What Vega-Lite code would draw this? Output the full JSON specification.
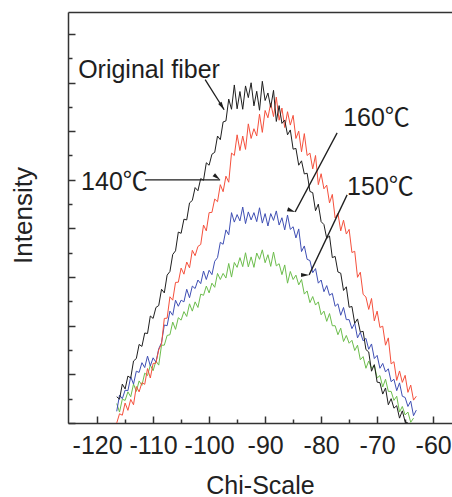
{
  "$schema": "https://vega.github.io/schema/vega-lite/v6.json",
  "width": 384,
  "height": 411,
  "autosize": {"type": "none"},
  "padding": {"left": 68, "top": 12, "right": 0, "bottom": 74},
  "config": {
    "font": "Liberation Sans",
    "view": {"stroke": null},
    "axis": {"grid": false, "domainColor": "#333", "domainWidth": 1.5, "tickColor": "#333", "tickWidth": 1.5, "labelColor": "#222", "titleColor": "#222", "titleFontWeight": "normal"}
  },
  "datasets": {
    "curves": [
      {"x":-116.5,"k":1.08,"r":0.0,"b":0.48,"g":0.8},
      {"x":-116,"k":0.98,"r":0.38,"b":1.15,"g":0.45},
      {"x":-115.5,"k":1.6,"r":0.32,"b":1.0,"g":0.98},
      {"x":-115,"k":1.4,"r":0.82,"b":1.35,"g":0.93},
      {"x":-114.5,"k":1.93,"r":0.52,"b":1.33,"g":1.28},
      {"x":-114,"k":1.85,"r":0.97,"b":1.9,"g":1.08},
      {"x":-113.5,"k":2.55,"r":0.75,"b":1.6,"g":1.6},
      {"x":-113,"k":2.65,"r":1.5,"b":2.13,"g":1.3},
      {"x":-112.5,"k":3.23,"r":1.28,"b":2.08,"g":1.73},
      {"x":-112,"k":3.15,"r":1.66,"b":2.48,"g":1.55},
      {"x":-111.5,"k":3.7,"r":1.59,"b":2.28,"g":2.05},
      {"x":-111,"k":3.68,"r":2.24,"b":2.75,"g":1.95},
      {"x":-110.5,"k":4.4,"r":1.85,"b":2.35,"g":2.38},
      {"x":-110,"k":4.3,"r":2.45,"b":2.68,"g":2.15},
      {"x":-109.5,"k":4.75,"r":2.46,"b":2.5,"g":2.55},
      {"x":-109,"k":4.83,"r":3.01,"b":3.05,"g":2.38},
      {"x":-108.5,"k":5.5,"r":3.25,"b":3.3,"g":3.2},
      {"x":-108,"k":5.35,"r":4.3,"b":4.03,"g":3.2},
      {"x":-107.5,"k":6.08,"r":4.31,"b":4.0,"g":3.6},
      {"x":-107,"k":6.23,"r":5.19,"b":4.6,"g":3.63},
      {"x":-106.5,"k":6.93,"r":5.05,"b":4.43,"g":4.15},
      {"x":-106,"k":7.08,"r":5.78,"b":5.05,"g":3.85},
      {"x":-105.5,"k":7.85,"r":5.79,"b":4.8,"g":4.33},
      {"x":-105,"k":7.8,"r":6.37,"b":5.05,"g":4.23},
      {"x":-104.5,"k":8.38,"r":6.12,"b":4.98,"g":4.58},
      {"x":-104,"k":8.35,"r":6.62,"b":5.5,"g":4.38},
      {"x":-103.5,"k":9.05,"r":6.38,"b":5.15,"g":4.9},
      {"x":-103,"k":9.15,"r":7.1,"b":5.63,"g":4.6},
      {"x":-102.5,"k":9.68,"r":6.88,"b":5.53,"g":4.98},
      {"x":-102,"k":9.55,"r":7.26,"b":5.88,"g":4.75},
      {"x":-101.5,"k":10.05,"r":7.34,"b":5.73,"g":5.3},
      {"x":-101,"k":9.98,"r":8.14,"b":6.25,"g":5.25},
      {"x":-100.5,"k":10.7,"r":7.9,"b":5.9,"g":5.63},
      {"x":-100,"k":10.6,"r":8.65,"b":6.28,"g":5.35},
      {"x":-99.5,"k":11.05,"r":8.66,"b":6.1,"g":5.75},
      {"x":-99,"k":11.13,"r":9.21,"b":6.65,"g":5.58},
      {"x":-98.5,"k":11.8,"r":9.1,"b":6.8,"g":6.15},
      {"x":-98,"k":11.65,"r":9.8,"b":7.43,"g":5.9},
      {"x":-97.5,"k":12.38,"r":9.51,"b":7.35,"g":6.15},
      {"x":-97,"k":12.42,"r":10.15,"b":7.94,"g":5.96},
      {"x":-96.5,"k":13.32,"r":9.9,"b":7.74,"g":6.56},
      {"x":-96,"k":12.9,"r":11.1,"b":8.65,"g":6.0},
      {"x":-95.5,"k":13.9,"r":11.0,"b":8.26,"g":6.6},
      {"x":-95,"k":12.92,"r":11.85,"b":8.57,"g":6.4},
      {"x":-94.5,"k":13.63,"r":11.2,"b":8.31,"g":6.8},
      {"x":-94,"k":12.9,"r":11.8,"b":8.88,"g":6.43},
      {"x":-93.5,"k":13.86,"r":11.25,"b":8.2,"g":7.0},
      {"x":-93,"k":13.38,"r":12.3,"b":8.68,"g":6.42},
      {"x":-92.5,"k":13.99,"r":11.7,"b":8.35,"g":6.83},
      {"x":-92,"k":13.04,"r":12.1,"b":8.65,"g":6.4},
      {"x":-91.5,"k":13.64,"r":11.8,"b":8.28,"g":6.99},
      {"x":-91,"k":12.86,"r":12.7,"b":8.85,"g":6.73},
      {"x":-90.5,"k":14.05,"r":11.95,"b":8.22,"g":7.12},
      {"x":-90,"k":13.26,"r":12.85,"b":8.61,"g":6.59},
      {"x":-89.5,"k":13.57,"r":12.55,"b":8.1,"g":6.92},
      {"x":-89,"k":12.98,"r":13.15,"b":8.61,"g":6.44},
      {"x":-88.5,"k":13.68,"r":12.6,"b":8.33,"g":7.03},
      {"x":-88,"k":12.4,"r":13.4,"b":8.72,"g":6.46},
      {"x":-87.5,"k":13.05,"r":12.45,"b":8.14,"g":6.55},
      {"x":-87,"k":12.32,"r":12.95,"b":8.44,"g":6.1},
      {"x":-86.5,"k":12.46,"r":12.15,"b":7.94,"g":6.5},
      {"x":-86,"k":11.85,"r":12.8,"b":8.55,"g":5.75},
      {"x":-85.5,"k":12.05,"r":12.25,"b":7.96,"g":6.23},
      {"x":-85,"k":11.26,"r":12.65,"b":8.07,"g":5.9},
      {"x":-84.5,"k":11.29,"r":11.7,"b":7.61,"g":6.08},
      {"x":-84,"k":10.6,"r":12.0,"b":7.98,"g":5.68},
      {"x":-83.5,"k":10.78,"r":11.15,"b":7.05,"g":5.9},
      {"x":-83,"k":10.24,"r":11.9,"b":7.28,"g":5.3},
      {"x":-82.5,"k":10.27,"r":11.0,"b":6.73,"g":5.43},
      {"x":-82,"k":9.52,"r":11.1,"b":6.68,"g":4.95},
      {"x":-81.5,"k":9.47,"r":10.45,"b":6.18,"g":5.2},
      {"x":-81,"k":8.73,"r":11.0,"b":6.35,"g":4.85},
      {"x":-80.5,"k":9.0,"r":9.8,"b":5.75,"g":4.98},
      {"x":-80,"k":8.28,"r":10.25,"b":5.88,"g":4.45},
      {"x":-79.5,"k":8.16,"r":9.63,"b":5.4,"g":4.6},
      {"x":-79,"k":7.59,"r":9.78,"b":5.65,"g":4.18},
      {"x":-78.5,"k":7.69,"r":9.05,"b":5.25,"g":4.5},
      {"x":-78,"k":6.8,"r":9.4,"b":5.33,"g":4.0},
      {"x":-77.5,"k":6.85,"r":8.43,"b":4.8,"g":4.0},
      {"x":-77,"k":6.21,"r":8.62,"b":4.9,"g":3.63},
      {"x":-76.5,"k":6.16,"r":7.9,"b":4.43,"g":3.9},
      {"x":-76,"k":5.45,"r":8.34,"b":4.75,"g":3.35},
      {"x":-75.5,"k":5.6,"r":7.77,"b":4.25,"g":3.6},
      {"x":-75,"k":4.76,"r":7.96,"b":4.25,"g":3.28},
      {"x":-74.5,"k":4.79,"r":7.01,"b":3.88,"g":3.4},
      {"x":-74,"k":4.1,"r":7.06,"b":4.1,"g":2.98},
      {"x":-73.5,"k":4.28,"r":5.99,"b":3.5,"g":3.2},
      {"x":-73,"k":3.74,"r":6.2,"b":3.73,"g":2.6},
      {"x":-72.5,"k":3.77,"r":5.29,"b":3.38,"g":2.73},
      {"x":-72,"k":3.02,"r":5.18,"b":3.48,"g":2.25},
      {"x":-71.5,"k":2.92,"r":4.67,"b":3.03,"g":2.55},
      {"x":-71,"k":2.13,"r":5.12,"b":3.25,"g":2.25},
      {"x":-70.5,"k":2.4,"r":4.2,"b":2.65,"g":2.38},
      {"x":-70,"k":1.68,"r":4.6,"b":2.78,"g":1.85},
      {"x":-69.5,"k":1.66,"r":3.93,"b":2.25,"g":1.95},
      {"x":-69,"k":1.19,"r":3.98,"b":2.45,"g":1.48},
      {"x":-68.5,"k":1.44,"r":3.2,"b":2.1,"g":1.8},
      {"x":-68,"k":0.75,"r":3.5,"b":2.23,"g":1.3},
      {"x":-67.5,"k":1.0,"r":2.43,"b":1.7,"g":1.3},
      {"x":-67,"k":0.61,"r":2.52,"b":1.8,"g":0.93},
      {"x":-66.5,"k":0.71,"r":1.75,"b":1.33,"g":1.1},
      {"x":-66,"k":0.2,"r":2.14,"b":1.65,"g":0.45},
      {"x":-65.5,"k":0.5,"r":1.67,"b":1.1,"g":0.68},
      {"x":-65,"k":0.05,"r":1.96,"b":1.05,"g":0.33},
      {"x":-64.5,"k":0.0,"r":1.26,"b":0.68,"g":0.45},
      {"x":-64,"r":1.56,"b":0.9,"g":0.03},
      {"x":-63.5,"r":0.94,"b":0.3,"g":0.2},
      {"x":-63,"r":1.1,"b":0.53}
    ],
    "labels": [
      {"t":"Original fiber","x":-123.39,"y":14.53},
      {"t":"140℃","x":-122.86,"y":9.92},
      {"t":"160℃","x":-76.07,"y":12.55},
      {"t":"150℃","x":-75.36,"y":9.71}
    ],
    "arrows": [
      {"a":"orig","x":-100.71,"y":14.12,"x2":-97.32,"y2":12.88},
      {"a":"t140","x":-111.43,"y":10.0,"x2":-98.04,"y2":10.0},
      {"a":"t160","x":-77.14,"y":11.93,"x2":-84.64,"y2":8.68},
      {"a":"t150","x":-75.36,"y":9.38,"x2":-82.14,"y2":6.09}
    ]
  },
  "layer": [
    {
      "data": {"name": "curves"},
      "transform": [{"fold": ["g", "b", "r", "k"], "as": ["series", "value"]}],
      "mark": {"type": "line", "strokeWidth": 1, "clip": true},
      "encoding": {
        "x": {"field": "x", "type": "quantitative", "scale": {"domain": [-125.2, -56.63], "nice": false, "zero": false},
          "axis": {"orient": "bottom", "values": [-120, -110, -100, -90, -80, -70, -60], "tickSize": -7, "labelFontSize": 25, "labelPadding": 17, "labelExpr": "'' + datum.value", "title": "Chi-Scale", "titleFontSize": 25, "titleY": 62, "titleBaseline": "middle", "labelFlush": false}},
        "y": {"field": "value", "type": "quantitative", "scale": {"domain": [0, 16.9], "nice": false, "zero": false},
          "axis": {"orient": "left", "values": [0, 2, 4, 6, 8, 10, 12, 14, 16], "tickSize": -7, "labels": false, "title": "Intensity", "titleFontSize": 26, "titleX": -45, "titleY": 203, "titleBaseline": "middle", "titleAlign": "center", "titleAngle": -90}},
        "color": {"field": "series", "type": "nominal", "scale": {"domain": ["k", "r", "b", "g"], "range": ["#1e1e1e", "#f5503c", "#3f4fb4", "#6cbd4c"]}, "legend": null},
        "order": {"field": "series", "sort": "ascending"}
      }
    },
    {
      "data": {"values": [{"x": -100, "y": 5}]},
      "mark": {"type": "point", "opacity": 0},
      "encoding": {
        "x": {"field": "x", "type": "quantitative", "scale": {"domain": [-125.2, -56.63], "nice": false, "zero": false},
          "axis": {"orient": "bottom", "values": [-115, -105, -95, -85, -75, -65], "tickSize": -4, "labels": false, "domain": false, "title": null}},
        "y": {"field": "y", "type": "quantitative", "scale": {"domain": [0, 16.9], "nice": false, "zero": false},
          "axis": {"orient": "left", "values": [1, 3, 5, 7, 9, 11, 13, 15], "tickSize": -4, "labels": false, "domain": false, "title": null}}
      }
    },
    {
      "data": {"values": [{"x": -100, "y": 5}]},
      "mark": {"type": "point", "opacity": 0},
      "encoding": {
        "x": {"field": "x", "type": "quantitative", "scale": {"domain": [-125.2, -56.63], "nice": false, "zero": false},
          "axis": {"orient": "top", "ticks": false, "labels": false, "domain": true, "title": null}},
        "y": {"field": "y", "type": "quantitative", "scale": {"domain": [0, 16.9], "nice": false, "zero": false}, "axis": null}
      }
    },
    {
      "data": {"name": "arrows"},
      "mark": {"type": "rule", "color": "#1e1e1e", "strokeWidth": 1.3},
      "encoding": {
        "x": {"field": "x", "type": "quantitative", "scale": {"domain": [-125.2, -56.63], "nice": false, "zero": false}, "axis": null},
        "y": {"field": "y", "type": "quantitative", "scale": {"domain": [0, 16.9], "nice": false, "zero": false}, "axis": null},
        "x2": {"field": "x2"},
        "y2": {"field": "y2"}
      }
    },
    {
      "data": {"name": "arrows"},
      "mark": {"type": "point", "shape": "M0,0L0.45,1.8L-0.45,1.8Z", "filled": true, "color": "#1e1e1e", "opacity": 1, "size": 80},
      "encoding": {
        "x": {"field": "x2", "type": "quantitative", "scale": {"domain": [-125.2, -56.63], "nice": false, "zero": false}, "axis": null},
        "y": {"field": "y2", "type": "quantitative", "scale": {"domain": [0, 16.9], "nice": false, "zero": false}, "axis": null},
        "angle": {"field": "a", "type": "ordinal", "scale": {"domain": ["orig", "t140", "t160", "t150"], "range": [148, 90, 208, 205]}, "legend": null}
      }
    },
    {
      "data": {"name": "labels"},
      "mark": {"type": "text", "align": "left", "baseline": "middle", "fontSize": 25, "color": "#1e1e1e", "font": "Liberation Sans, Noto Sans CJK SC"},
      "encoding": {
        "x": {"field": "x", "type": "quantitative", "scale": {"domain": [-125.2, -56.63], "nice": false, "zero": false}, "axis": null},
        "y": {"field": "y", "type": "quantitative", "scale": {"domain": [0, 16.9], "nice": false, "zero": false}, "axis": null},
        "text": {"field": "t"}
      }
    }
  ],
  "resolve": {"axis": {"x": "independent", "y": "independent"}}
}
